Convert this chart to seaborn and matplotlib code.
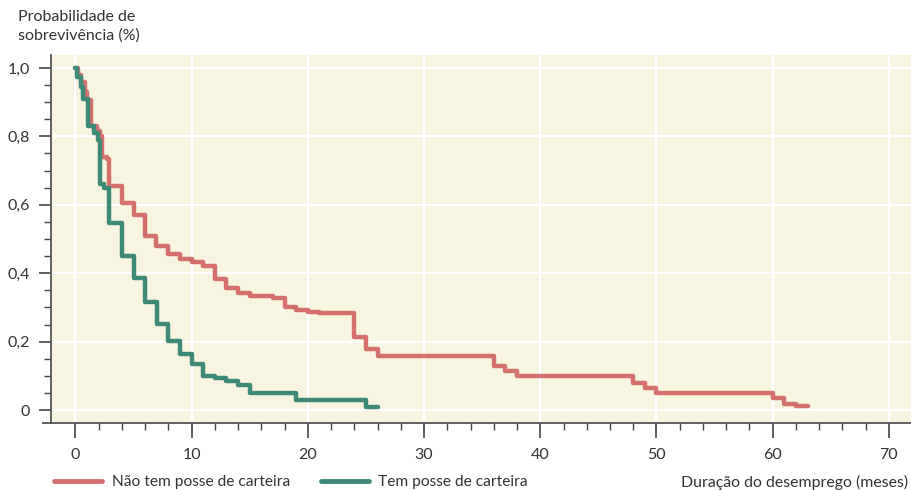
import numpy as np
import pandas as pd
import matplotlib
matplotlib.use("Agg")
import matplotlib.pyplot as plt
from matplotlib.ticker import MultipleLocator, FixedLocator
from matplotlib.lines import Line2D
import seaborn as sns

# ---- data ----
grupos = ["Não tem posse de carteira", "Tem posse de carteira"]

t_sem = [0, 0.2, 0.5, 0.8, 1.0, 1.3, 1.9, 2.1, 2.3, 2.7, 2.9, 4, 5, 6, 6.9, 8, 9, 10, 11,
         12, 13, 14, 15, 17, 18, 19, 20, 21, 24, 25, 26, 36, 37, 38, 48, 49, 50, 60, 61, 62, 63]
v_sem = [1.0, 0.98, 0.96, 0.93, 0.905, 0.83, 0.815, 0.80, 0.74, 0.735, 0.655, 0.604, 0.57,
         0.51, 0.48, 0.456, 0.441, 0.432, 0.421, 0.382, 0.357, 0.342, 0.332, 0.327, 0.302,
         0.292, 0.287, 0.283, 0.213, 0.178, 0.159, 0.129, 0.114, 0.099, 0.080, 0.063, 0.049,
         0.034, 0.018, 0.012, 0.012]

t_com = [0, 0.15, 0.45, 0.65, 1.1, 1.6, 1.95, 2.15, 2.5, 2.9, 4, 5, 6, 7, 8, 9, 10, 11,
         12, 13, 14, 15, 19, 25, 26]
v_com = [1.0, 0.975, 0.945, 0.91, 0.83, 0.81, 0.79, 0.66, 0.65, 0.547, 0.45, 0.385, 0.317,
         0.251, 0.202, 0.164, 0.134, 0.099, 0.095, 0.085, 0.074, 0.05, 0.029, 0.01, 0.01]

x_ticks = [0, 10, 20, 30, 40, 50, 60, 70]
y_ticks = [0, 0.2, 0.4, 0.6, 0.8, 1.0]
y_tick_labels = ["0", "0,2", "0,4", "0,6", "0,8", "1,0"]

cores = {"Não tem posse de carteira": "#d4716f", "Tem posse de carteira": "#3e8a77"}

df = pd.concat([
    pd.DataFrame({"t": t_sem, "v": v_sem, "grupo": grupos[0]}),
    pd.DataFrame({"t": t_com, "v": v_com, "grupo": grupos[1]}),
], ignore_index=True)

# ---- styling ----
sns.set_theme(style="white")
plt.rcParams["font.family"] = ["Lato", "DejaVu Sans"]
text_col = "#333333"

W, H = 911, 490
fig = plt.figure(figsize=(W / 100, H / 100), dpi=100)
ax = fig.add_axes([51 / W, 1 - 423 / H, 1 - 51 / W, (423 - 55) / H])
ax.set_facecolor("#f7f4e0")

sns.lineplot(data=df, x="t", y="v", hue="grupo", palette=cores, estimator=None,
             drawstyle="steps-post", linewidth=3.2, ax=ax, legend=False, sort=False)

ax.set_xlim(-2.1, 71.9)
ax.set_ylim(-0.038, 1.038)

ax.set_xticks(x_ticks)
ax.xaxis.set_minor_locator(FixedLocator([v for v in range(2, 72, 2) if v % 10]))
ax.set_yticks(y_ticks)
ax.set_yticklabels(y_tick_labels)
ax.yaxis.set_minor_locator(MultipleLocator(0.05))

ax.grid(True, which="major", color="white", linewidth=1.5)
ax.set_axisbelow(True)

for s in ["top", "right"]:
    ax.spines[s].set_visible(False)
for s in ["left", "bottom"]:
    ax.spines[s].set_color("#555555")
    ax.spines[s].set_linewidth(1.3)

# bottom spine extends a little left of the y axis
ax.add_line(Line2D([-9 / (W - 51), 0], [0, 0], transform=ax.transAxes, color="#555555",
                   lw=1.3, clip_on=False, solid_capstyle="butt"))

ax.tick_params(axis="x", which="major", length=11, width=1.2, color="#444444",
               labelsize=11.5, labelcolor=text_col, direction="out", bottom=True, pad=7)
ax.tick_params(axis="y", which="major", length=9, width=1.2, color="#444444",
               labelsize=11.5, labelcolor=text_col, direction="out", left=True, pad=6)
ax.tick_params(axis="both", which="minor", length=5, width=1.0, color="#444444",
               direction="out", bottom=True, left=True)

ax.set_xlabel("")
ax.set_ylabel("")

fig.text(18 / W, 1 - 26 / H, "Probabilidade de\nsobrevivência (%)", ha="left", va="center",
         fontsize=11.5, color=text_col, linespacing=1.4)
fig.text(908 / W, 1 - 482 / H, "Duração do desemprego (meses)", ha="right", va="center",
         fontsize=11.4, color=text_col)

# legend
handles = [Line2D([0], [0], color=cores[g], lw=3.5) for g in grupos]
fig.legend(handles, grupos, loc="center left", bbox_to_anchor=(40 / W, 1 - 482 / H),
           ncol=2, frameon=False, fontsize=11.2, handlelength=3.1, handletextpad=0.6,
           columnspacing=2.0, labelcolor=text_col)

fig.savefig("out.png", dpi=100)
